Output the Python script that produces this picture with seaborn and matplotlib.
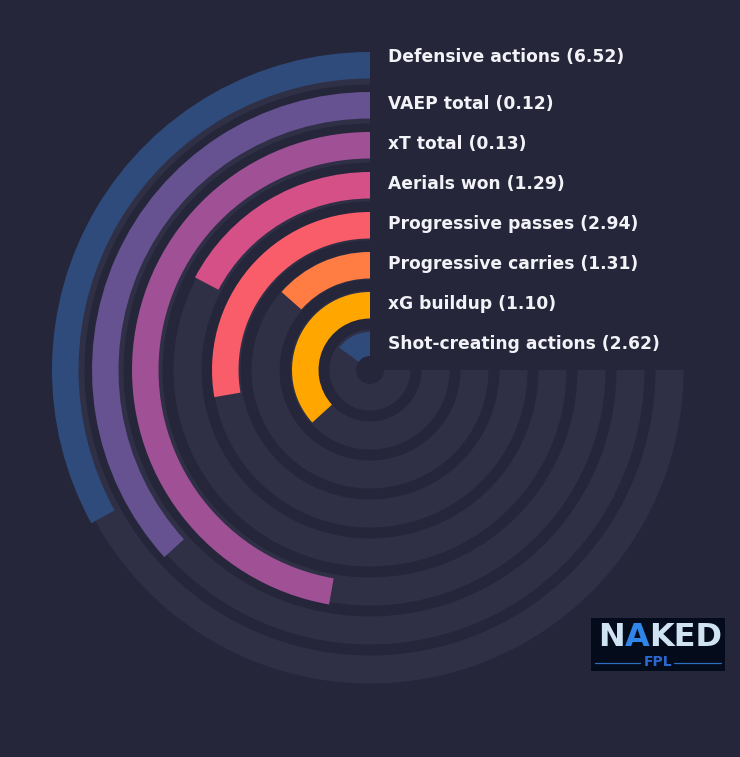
import numpy as np
import matplotlib
matplotlib.use("Agg")
import matplotlib.pyplot as plt
import seaborn as sns

# ---- data ----
metrics = ["Defensive actions", "VAEP total", "xT total", "Aerials won",
           "Progressive passes", "Progressive carries", "xG buildup",
           "Shot-creating actions"]
values = [6.52, 0.12, 0.13, 1.29, 2.94, 1.31, 1.10, 2.62]
percentiles = [44, 49, 63, 23, 37, 18, 49, 20]
bar_colors = ["#2f4b7c", "#665191", "#a05195", "#d45087",
              "#f95d6a", "#ff7c43", "#ffa600", "#2f4b7c"]

BG = "#25263a"
TRACK = "#2f3046"
TEXT = "#f2f2f7"

sns.set_theme(style="dark")
plt.rcParams["font.family"] = ["DejaVu Sans"]

fig = plt.figure(figsize=(7.4, 7.57), dpi=100, facecolor=BG)
W, H = 740, 757
R = 330
cx, cy = 370, 370
ax = fig.add_axes([(cx - R) / W, (H - cy - R) / H, 2 * R / W, 2 * R / H],
                  projection="polar")
ax.set_facecolor(BG)
ax.set_theta_zero_location("N")
ax.set_theta_direction(1)
ax.set_ylim(0, R)
ax.grid(False)
ax.set_xticks([])
ax.set_yticks([])
ax.spines["polar"].set_visible(False)

pal = sns.color_palette(bar_colors)
full = 1.5 * np.pi
n = len(metrics)
for i in range(n):
    # background track
    ax.bar(x=0, height=28, width=full, bottom=285.5 - 39 * i, align="edge",
           color=TRACK, linewidth=0, zorder=1)
for i in range(n):
    ax.bar(x=0, height=26.5, width=percentiles[i] / 100 * full,
           bottom=291.5 - 40 * i, align="edge", color=pal[i],
           linewidth=0, zorder=2)

# centre dot
ax.bar(x=0, height=14, width=2 * np.pi, bottom=0, align="edge", color=BG,
       linewidth=0, zorder=3)

for i in range(n):
    r = 291.5 - 40 * i + 26.5 / 2 + (8.5 if i == 0 else 1)
    ax.annotate(f"{metrics[i]} ({values[i]:.2f})", xy=(0, r),
                xytext=(18, 0), textcoords="offset pixels",
                ha="left", va="center", color=TEXT, fontsize=12.3,
                fontweight="bold", zorder=5, annotation_clip=False)

# logo
lx0, ly0, lx1, ly1 = 591, 618, 725, 671
lax = fig.add_axes([lx0 / W, (H - ly1) / H, (lx1 - lx0) / W, (ly1 - ly0) / H])
lax.set_facecolor("#040b1b")
lax.set_xlim(0, lx1 - lx0)
lax.set_ylim(ly1 - ly0, 0)
lax.set_xticks([])
lax.set_yticks([])
for s in lax.spines.values():
    s.set_visible(False)
t1 = lax.text(7, 19, "N", ha="left", va="center", color="#cfe3f2",
              fontsize=23, fontweight="bold")
t2 = lax.annotate("A", xy=(1, 0), xycoords=t1, ha="left", va="bottom",
                  color="#2f86e8", fontsize=23, fontweight="bold")
lax.annotate("KED", xy=(1, 0), xycoords=t2, ha="left", va="bottom",
             color="#cfe3f2", fontsize=23, fontweight="bold")
lax.text(67, 44, "FPL", ha="center", va="center", color="#2a68d0",
         fontsize=10, fontweight="bold")
lax.plot([4, 49], [45, 45], color="#2a6fc0", lw=0.9)
lax.plot([83, 130], [45, 45], color="#2a6fc0", lw=0.9)

fig.savefig("out.png", dpi=100, facecolor=BG)
